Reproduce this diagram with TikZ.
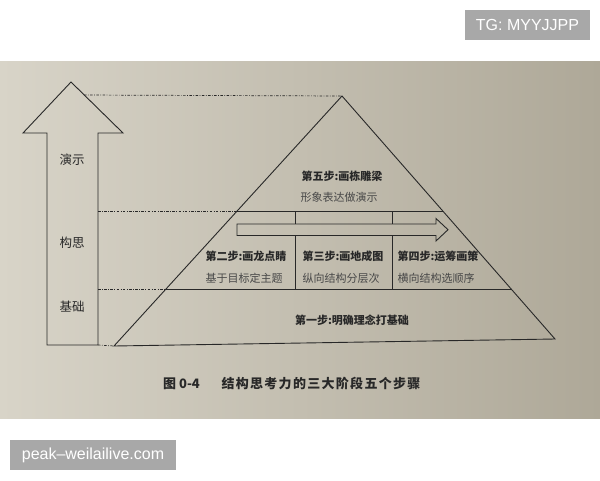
\documentclass[tikz,border=0pt]{standalone}
\usepackage{fontspec}
\setmainfont{Noto Sans CJK SC}
\newfontfamily\capfont[LetterSpace=10]{Noto Sans CJK SC}
\newfontfamily\markfont{Liberation Sans}
\usepackage{tikz}

\definecolor{paperL}{RGB}{216,212,200}
\definecolor{paperM}{RGB}{200,195,181}
\definecolor{paperR}{RGB}{174,168,152}
\definecolor{ink}{RGB}{40,40,40}
\definecolor{inksoft}{RGB}{72,72,72}
\definecolor{tagbg}{RGB}{168,168,168}

\begin{document}
\begin{tikzpicture}[x=1pt,y=-1pt,
	edgeline/.style={draw=ink,line width=0.9pt},
	guide/.style={draw=ink,line width=0.7pt,dash pattern=on 2.5pt off 1.5pt on 0.7pt off 1.5pt},
	title/.style={text=ink,font=\fontsize{11}{13}\selectfont\bfseries,inner sep=0pt},
	note/.style={text=inksoft,font=\fontsize{11}{13}\selectfont,inner sep=0pt},
	stage/.style={text=ink,font=\fontsize{12.5}{14}\selectfont,inner sep=0pt},
	tag/.style={fill=tagbg,text=white,font=\markfont\fontsize{16}{18}\selectfont,inner sep=0pt,minimum height=30pt}]

	\useasboundingbox (0,0) rectangle (600,480);
	% paper
	\shade[left color=paperL,middle color=paperM,right color=paperR] (0,61) rectangle (600,418);

	% watermarks
	\node[tag,minimum width=125pt] (tg) at (527.5,25) {TG: MYYJJPP};
	\node[tag,minimum width=166pt] (site) at (93,455) {peak–weilailive.com};

	% big arrow
	\coordinate (tip) at (71,82);
	\coordinate (hr) at (123,133);
	\coordinate (sr) at (98,133);
	\coordinate (sbr) at (98,345);
	\coordinate (sbl) at (47,345);
	\coordinate (sl) at (47,133);
	\coordinate (hl) at (23,133);
	\draw[edgeline] (tip) -- (hr) -- (sr) -- (sbr) -- (sbl) -- (sl) -- (hl) -- cycle;

	\node[stage] (show) at (72,160) {演示};
	\node[stage] (plan) at (72,243) {构思};
	\node[stage] (base) at (72,307) {基础};

	% pyramid
	\coordinate (top) at (342,96);
	\coordinate (bl) at (114,346);
	\coordinate (br) at (555,339);
	\coordinate (m1) at (237,211);
	\coordinate (m2) at (443,211);
	\coordinate (n1) at (166,289);
	\coordinate (n2) at (511,289);
	\draw[edgeline] (top) -- (br) -- (bl) -- cycle;
	\draw[edgeline] (m1) -- (m2);
	\draw[edgeline] (n1) -- (n2);

	% dividers, cut by the flow arrow
	\coordinate (d1t) at (295,211);
	\coordinate (d1a) at (295,224);
	\coordinate (d1b) at (295,235.5);
	\coordinate (d1u) at (295,289);
	\coordinate (d2t) at (392,211);
	\coordinate (d2a) at (392,224);
	\coordinate (d2b) at (392,235.5);
	\coordinate (d2u) at (392,289);
	\draw[edgeline] (d1t) -- (d1a);
	\draw[edgeline] (d1b) -- (d1u);
	\draw[edgeline] (d2t) -- (d2a);
	\draw[edgeline] (d2b) -- (d2u);

	% flow arrow
	\coordinate (ar1) at (237,224);
	\coordinate (ar2) at (436,224);
	\coordinate (ar3) at (436,218.5);
	\coordinate (ar4) at (448,229.7);
	\coordinate (ar5) at (436,241);
	\coordinate (ar6) at (436,235.5);
	\coordinate (ar7) at (237,235.5);
	\draw[edgeline] (ar1) -- (ar2) -- (ar3) -- (ar4) -- (ar5) -- (ar6) -- (ar7) -- cycle;

	% guide lines
	\coordinate (g1) at (84,95);
	\coordinate (g2) at (98,211);
	\coordinate (g3) at (98,289);
	\coordinate (g4) at (98,345);
	\draw[guide] (g1) -- (top);
	\draw[guide] (g2) -- (m1);
	\draw[guide] (g3) -- (n1);
	\draw[guide] (g4) -- (bl);

	% steps
	\node[title] (s5) at (342,176) {第五步:画栋雕梁};
	\node[note] (s5n) at (339,197) {形象表达做演示};
	\node[title] (s2) at (246,256) {第二步:画龙点睛};
	\node[note] (s2n) at (244,278) {基于目标定主题};
	\node[title] (s3) at (343,256) {第三步:画地成图};
	\node[note] (s3n) at (341,278) {纵向结构分层次};
	\node[title] (s4) at (438,256) {第四步:运筹画策};
	\node[note] (s4n) at (436,278) {横向结构选顺序};
	\node[title] (s1) at (352,320) {第一步:明确理念打基础};

	% caption
	\node[text=ink,inner sep=0pt,font=\fontsize{13}{15}\selectfont\bfseries] (fignum) at (181.5,383.3) {图 0-4};
	\node[text=ink,inner sep=0pt,font=\capfont\fontsize{13}{15}\selectfont\bfseries] (figcap) at (321,383.3) {结构思考力的三大阶段五个步骤};
\end{tikzpicture}
\end{document}
